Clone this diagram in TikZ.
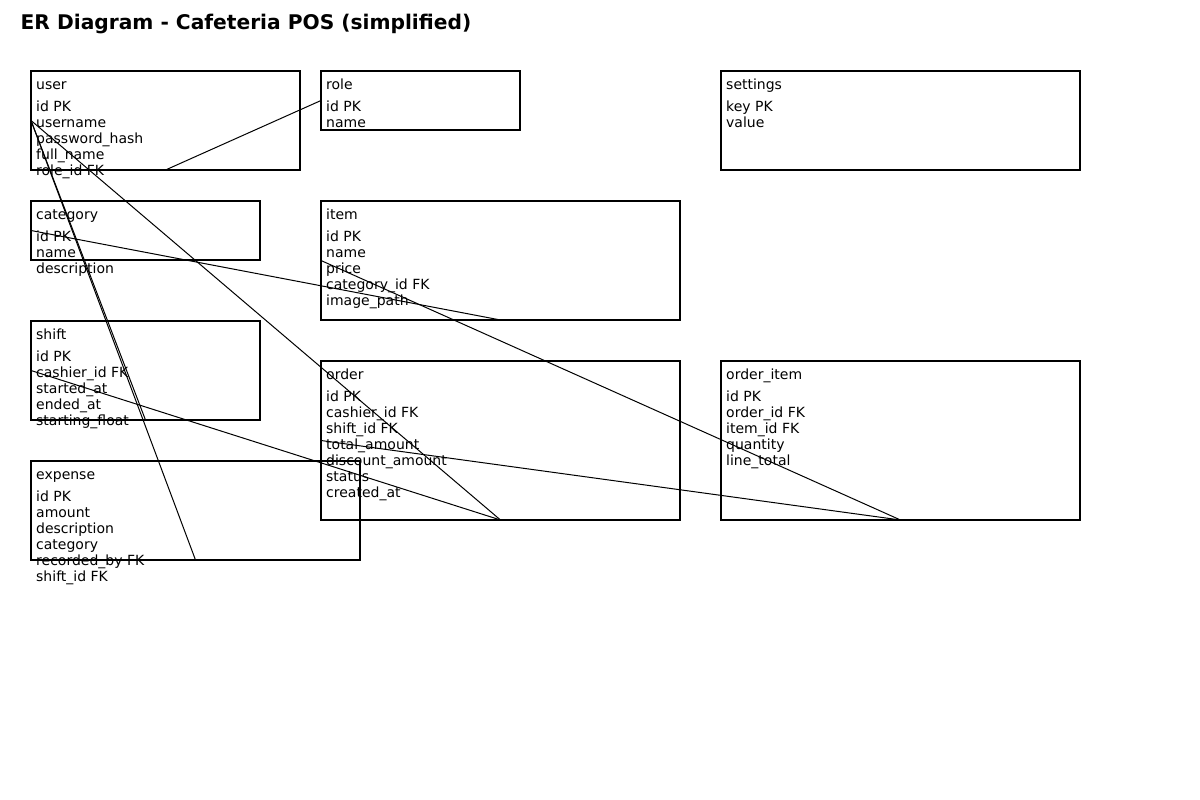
\documentclass[tikz,border=0pt]{standalone}
\usepackage{fontspec}
\setmainfont{DejaVu Sans}
\begin{document}
\begin{tikzpicture}[x=1pt,y=-1pt,
  entity/.style={draw, line width=1.5pt, rectangle, inner sep=0pt, outer sep=0pt, anchor=north west},
  ttext/.style={anchor=base west, inner sep=0pt, font=\fontsize{14}{16}\selectfont},
  ftext/.style={anchor=north west, inner sep=0pt, font=\fontsize{14}{16}\selectfont, align=left},
  link/.style={line width=1pt}]
\useasboundingbox (0,0) rectangle (1200,800);
\node[anchor=base west, inner sep=0pt, font=\bfseries\fontsize{20.2}{24}\selectfont] (title) at (20.5,29.5) {ER Diagram - Cafeteria POS (simplified)};

% entities
\node[entity, minimum width=269pt, minimum height=99pt] (user) at (31,71) {};
\node[entity, minimum width=199pt, minimum height=59pt] (role) at (321,71) {};
\node[entity, minimum width=359pt, minimum height=99pt] (settings) at (721,71) {};
\node[entity, minimum width=229pt, minimum height=59pt] (category) at (31,201) {};
\node[entity, minimum width=359pt, minimum height=119pt] (item) at (321,201) {};
\node[entity, minimum width=229pt, minimum height=99pt] (shift) at (31,321) {};
\node[entity, minimum width=359pt, minimum height=159pt] (order) at (321,361) {};
\node[entity, minimum width=359pt, minimum height=159pt] (orderitem) at (721,361) {};
\node[entity, minimum width=329pt, minimum height=99pt] (expense) at (31,461) {};

% texts (field block top = first baseline - 10.6)
\node[ttext] (userT) at (36,89) {user};
\node[ftext] (userF) at (36,100.4) {id PK\\username\\password\_hash\\full\_name\\role\_id FK};
\node[ttext] (roleT) at (326,89) {role};
\node[ftext] (roleF) at (326,100.4) {id PK\\name};
\node[ttext] (settingsT) at (726,89) {settings};
\node[ftext] (settingsF) at (726,100.4) {key PK\\value};
\node[ttext] (categoryT) at (36,219) {category};
\node[ftext] (categoryF) at (36,230.4) {id PK\\name\\description};
\node[ttext] (itemT) at (326,219) {item};
\node[ftext] (itemF) at (326,230.4) {id PK\\name\\price\\category\_id FK\\image\_path};
\node[ttext] (shiftT) at (36,339) {shift};
\node[ftext] (shiftF) at (36,350.4) {id PK\\cashier\_id FK\\started\_at\\ended\_at\\starting\_float};
\node[ttext] (orderT) at (326,379) {order};
\node[ftext] (orderF) at (326,390.4) {id PK\\cashier\_id FK\\shift\_id FK\\total\_amount\\discount\_amount\\status\\created\_at};
\node[ttext] (orderitemT) at (726,379) {order\_item};
\node[ftext] (orderitemF) at (726,390.4) {id PK\\order\_id FK\\item\_id FK\\quantity\\line\_total};
\node[ttext] (expenseT) at (36,479) {expense};
\node[ftext] (expenseF) at (36,490.4) {id PK\\amount\\description\\category\\recorded\_by FK\\shift\_id FK};

% relationships
\draw[link] (role.west) -- (user.south);
\draw[link] (category.west) -- (item.south);
\draw[link] (user.west) -- (order.south);
\draw[link] (user.west) -- (shift.south);
\draw[link] (user.west) -- (expense.south);
\draw[link] (shift.west) -- (order.south);
\draw[link] (order.west) -- (orderitem.south);
\draw[link] (item.west) -- (orderitem.south);
\end{tikzpicture}
\end{document}
